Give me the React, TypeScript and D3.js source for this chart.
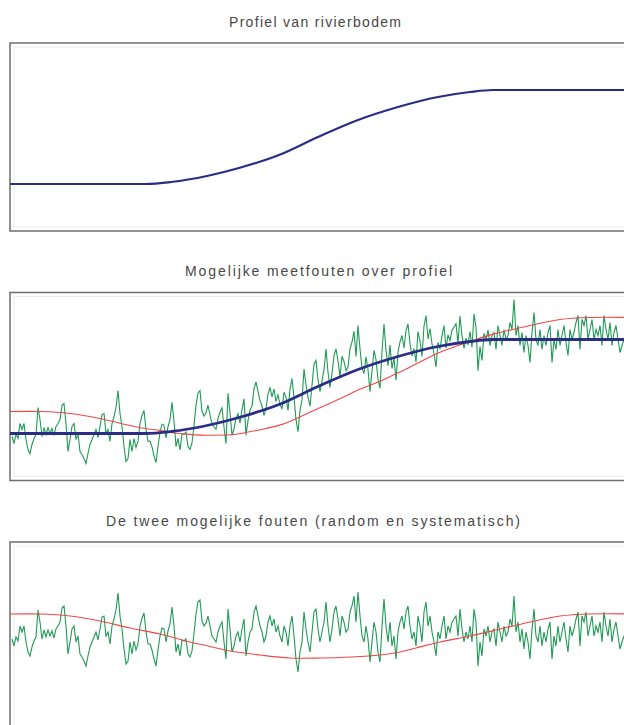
import * as d3 from 'd3';

const titles = [
  'Profiel van rivierbodem',
  'Mogelijke meetfouten over profiel',
  'De twee mogelijke fouten (random en systematisch)',
];

// distance along the river and bed height
const profileDist = [0, 135, 161, 197, 229, 269, 308, 348, 388, 428, 460, 483, 620];
const profileHeight = [47, 47, 49, 55, 63, 76, 94, 111, 124, 134, 139, 141, 141];

// systematic error (slow wave)
const systDist = [0, 30, 60, 90, 120, 150, 180, 198, 220, 250, 280, 310, 340, 370, 390, 406, 430, 460, 490, 520, 550, 580, 620];
const systError = [22, 22, 20, 15, 8, 2, -6, -10, -15, -19, -22, -22, -21, -19, -16, -12, -6, 0, 7, 14, 20, 22, 22];

// random error, one reading every 2 units, first one at 2
const noiseStart = 2;
const noiseStep = 2;
const randomError = [
  -3, -10, -1, -5, 10, 4, 10, -6, -16, -20, -11, -5, -1, 26, 14, -3, 6, -1, 6, 0,
  5, -2, 7, 10, 14, 28, 30, 10, -18, -6, 7, 10, -6, 0, -18, -21, -25, -30, -20, -11,
  -6, -1, 4, -4, 7, 19, 20, 0, 4, -8, 10, 17, 26, 43, 20, 7, -13, -28, -25, -6,
  -18, -5, -14, -8, 10, 18, 23, 4, -8, -8, -14, -23, -30, -14, 0, 8, 7, -6, 5, 12,
  29, 10, -16, -8, -20, -4, -5, -3, -18, -21, -15, 2, 22, 34, 36, 15, 10, 13,
  20, 10, 0, -3, -6, 4, 10, 14, -6, -23, 27, 7, -16, -10, 0, 4, -6, 7, 17, -20,
  -6, 4, 7, 24, 30, 20, 10, 4, -6, 0, 14, 20, 10, 17, 4, 10, 0, -6, 10, 4,
  -10, 10, 20, 0, -23, -36, -16, -6, 24, 7, -6, -16, 4, 24, 27, 7, -6, 4, 14, 34,
  10, -6, 7, 24, 30, 17, 0, 20, 14, 4, 7, 24, 30, 40, 14, 44, 20, 0, -6, 10,
  -3, -26, -6, 14, 4, -16, -26, 10, 37, 10, -6, 14, -10, 0, -23, 4, 14, 20, 7, 24,
  30, 10, -3, 4,
  -10, 20, 10, -6, 24, 34, 10, 20, 4, -6, -20, 4, -3, 10, 20, -3, 10, 4, 14, 17,
  20, 0, 27, 7, -6, 4, -3, 10, -6, 27, 14, -30, -6, -20, 7, 0, 10, -6, 4, 7,
  -10, 14, 4, -6, 10, 0, 4, 17, 10, 40, 4, 14, -6, 7, -13, 4, -6, -23, 7, 27,
  0, -6, 10, -10, 4, -6, 7, 14, -23, 0, -10, 10, -6, 4, 14, -3, -16, 10, 0, 7,
  17, 24, -10, 20, 14, 24, 0, 10, 20, 0, 10, 4, 14, -6, 24, 10, 0, 17, -6, 7,
  14, 0, -13, -6, 0,
];

const panelTops = [43, 292.5, 542];
const titleBaselines = [27, 276, 526];
const titleStarts = [229, 185, 106];
const titleWidths = [172, 267, 414];
const panelHeight = 188;

const blue = '#2b2c86';
const red = '#ef4747';
const green = '#1f9a55';

function at(xs: number[], ys: number[], d: number) {
  const i = d3.bisectRight(xs, d);
  if (i <= 0) return ys[0];
  if (i >= xs.length) return ys[ys.length - 1];
  const t = (d - xs[i - 1]) / (xs[i] - xs[i - 1]);
  return ys[i - 1] + t * (ys[i] - ys[i - 1]);
}

export default function App() {
  const x = d3.scaleLinear().domain([0, 620]).range([10, 630]);
  const yProfile = (top: number) => d3.scaleLinear().domain([0, 188]).range([top + panelHeight, top]);
  const yError = (top: number) => d3.scaleLinear().domain([-94, 94]).range([top + panelHeight, top]);

  const noiseDist = randomError.map((_, i) => noiseStart + i * noiseStep);
  const unionDist = Array.from(new Set([...profileDist, ...systDist])).sort((a, b) => a - b);

  const y1 = yProfile(panelTops[0]);
  const y2 = yProfile(panelTops[1]);
  const y3 = yError(panelTops[2]);

  const line = (ys: d3.ScaleLinear<number, number>, curve: d3.CurveFactory = d3.curveLinear) =>
    d3
      .line<[number, number]>()
      .x((p) => x(p[0]))
      .y((p) => ys(p[1]))
      .curve(curve);

  const profilePts = profileDist.map((d, i) => [d, profileHeight[i]] as [number, number]);
  const measuredPts = noiseDist.map((d, i) => [d, at(profileDist, profileHeight, d) + randomError[i]] as [number, number]);
  const shiftedPts = unionDist.map(
    (d) => [d, at(profileDist, profileHeight, d) + at(systDist, systError, d)] as [number, number]
  );
  const noisePts = noiseDist.map((d, i) => [d, randomError[i]] as [number, number]);
  const systPts = systDist.map((d, i) => [d, systError[i]] as [number, number]);

  return (
    <svg
      width={624}
      height={725}
      style={{ position: 'absolute', left: 0, top: 0, background: '#fff' }}
      fontFamily="'Liberation Sans', Arial, sans-serif"
    >
      {panelTops.map((top, i) => (
        <g key={i}>
          <text
            x={titleStarts[i]}
            y={titleBaselines[i]}
            fontSize={14}
            fill="#474747"
            textLength={titleWidths[i]}
            lengthAdjust="spacing"
          >
            {titles[i]}
          </text>
          <rect x={14} y={top + 4} width={640} height={panelHeight - 8} fill="none" stroke="#ececec" />
          <rect x={10} y={top} width={640} height={panelHeight} fill="none" stroke="#6e6e6e" strokeWidth={1.5} />
        </g>
      ))}

      <path d={line(y1, d3.curveMonotoneX)(profilePts) ?? ''} fill="none" stroke={blue} strokeWidth={2.2} />

      <path d={line(y2)(measuredPts) ?? ''} fill="none" stroke={green} strokeWidth={1.1} />
      <path d={line(y2, d3.curveCatmullRom)(shiftedPts) ?? ''} fill="none" stroke={red} strokeWidth={1.1} />
      <path d={line(y2, d3.curveMonotoneX)(profilePts) ?? ''} fill="none" stroke={blue} strokeWidth={2.8} />

      <path d={line(y3)(noisePts) ?? ''} fill="none" stroke={green} strokeWidth={1.1} />
      <path d={line(y3, d3.curveCatmullRom)(systPts) ?? ''} fill="none" stroke={red} strokeWidth={1.1} />
    </svg>
  );
}
